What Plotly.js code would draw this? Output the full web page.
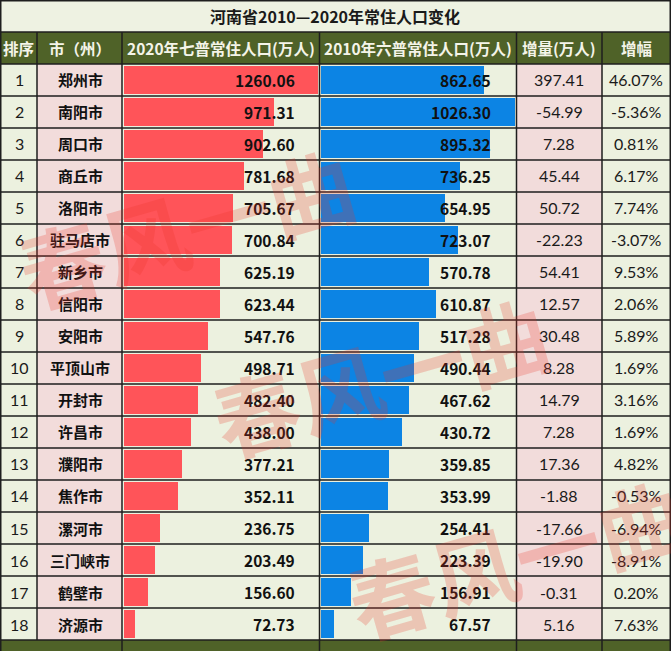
<!DOCTYPE html>
<html><head><meta charset="utf-8">
<script src="https://cdn.plot.ly/plotly-3.0.1.min.js"></script>
<style>html,body{margin:0;padding:0;background:#fff;}#chart{width:671px;height:651px;}</style>
</head><body><div id="chart"></div>
<script>
// ---- data ----
const title = "河南省2010—2020年常住人口变化";
const headers = ["排序", "市（州）", "2020年七普常住人口(万人)", "2010年六普常住人口(万人)", "增量(万人)", "增幅"];
const ranks = [1,2,3,4,5,6,7,8,9,10,11,12,13,14,15,16,17,18];
const cities = ["郑州市","南阳市","周口市","商丘市","洛阳市","驻马店市","新乡市","信阳市","安阳市","平顶山市","开封市","许昌市","濮阳市","焦作市","漯河市","三门峡市","鹤壁市","济源市"];
const pop2020 = [1260.06,971.31,902.60,781.68,705.67,700.84,625.19,623.44,547.76,498.71,482.40,438.00,377.21,352.11,236.75,203.49,156.60,72.73];
const pop2010 = [862.65,1026.30,895.32,736.25,654.95,723.07,570.78,610.87,517.28,490.44,467.62,430.72,359.85,353.99,254.41,223.39,156.91,67.57];
const increase = [397.41,-54.99,7.28,45.44,50.72,-22.23,54.41,12.57,30.48,8.28,14.79,7.28,17.36,-1.88,-17.66,-19.90,-0.31,5.16];
const growthPct = [46.07,-5.36,0.81,6.17,7.74,-3.07,9.53,2.06,5.89,1.69,3.16,1.69,4.82,-0.53,-6.94,-8.91,0.20,7.63];
const totalLabel = "全省合计";
const watermark = "春风一曲";

// ---- layout geometry (pixels) ----
const W = 671, H = 651;
const px = x => x / W, py = y => 1 - y / H;
const colX = [0, 37, 122, 319.5, 516.5, 602, 671];
const titleBot = 32, headBot = 64, rowH = 32, n = cities.length;
const rowsBot = headBot + rowH * n;
const LIGHT = "#ECF1DF", PINK = "#F2DCDB", OLIVE = "#4F6228", LINE = "#1e1e1e";

const idx = ranks.map((r, i) => i);
const max20 = Math.max(...pop2020), max10 = Math.max(...pop2010);

const traces = [
  { type: "bar", orientation: "h", x: pop2020, y: idx, xaxis: "x", yaxis: "y",
    width: 0.88, marker: { color: "#FF5459", line: { width: 0 } }, hoverinfo: "skip" },
  { type: "bar", orientation: "h", x: pop2010, y: idx, xaxis: "x2", yaxis: "y",
    width: 0.88, marker: { color: "#0C84E4", line: { width: 0 } }, hoverinfo: "skip" }
];

const shapes = [];
function rect(x0, y0, x1, y1, color) {
  shapes.push({ type: "rect", xref: "paper", yref: "paper", x0: px(x0), x1: px(x1), y0: py(y1), y1: py(y0),
    fillcolor: color, line: { width: 0 }, layer: "below" });
}
function line(x0, y0, x1, y1, w) {
  shapes.push({ type: "line", xref: "paper", yref: "paper", x0: px(x0), x1: px(x1), y0: py(y0), y1: py(y1),
    line: { color: LINE, width: w || 1.5 }, layer: "above" });
}
rect(0, 0, W, titleBot, "#EEF2E2");
rect(0, titleBot, W, headBot, OLIVE);
const colBg = [LIGHT, PINK, LIGHT, LIGHT, PINK, LIGHT];
for (let c = 0; c < 6; c++) rect(colX[c], headBot, colX[c + 1], rowsBot, colBg[c]);
rect(0, rowsBot, W, H, OLIVE);
// horizontal lines
line(0, 0.75, W, 0.75);
line(0, titleBot, W, titleBot);
line(0, headBot, W, headBot);
for (let k = 1; k <= n; k++) line(0, headBot + rowH * k, W, headBot + rowH * k);
// vertical lines
line(0.75, 0, 0.75, H);
line(W - 0.75, 0, W - 0.75, H);
for (let c = 1; c < 6; c++) {
  if (c === 1) { line(colX[c], titleBot, colX[c], rowsBot); }
  else line(colX[c], titleBot, colX[c], H);
}

const ann = [];
const cjk = '"Noto Sans CJK SC", "Microsoft YaHei", sans-serif';
function A(o) { ann.push(Object.assign({ showarrow: false, xanchor: "center", yanchor: "middle", xref: "paper" }, o)); }
A({ text: title, yref: "paper", x: px(335), y: py(16),
  font: { family: cjk, size: 16, color: "#1a1a1a", weight: "bold" } });
headers.forEach((h, c) => {
  A({ text: h, yref: "paper", x: px((colX[c] + colX[c + 1]) / 2), y: py(48),
    font: { family: cjk, size: 15.5, color: "#F4F4E8", weight: "bold" } });
});
const numFont = { family: "Lato, 'Open Sans', sans-serif", size: 16, color: "#1a1a1a" };
const boldNum = { family: cjk, size: 15.5, color: "#111", weight: "bold" };
idx.forEach(i => {
  A({ text: String(ranks[i]), yref: "y", x: px(19), y: i, font: numFont });
  A({ text: cities[i], yref: "y", x: px(80), y: i,
    font: { family: cjk, size: 15, color: "#111", weight: "bold" } });
  A({ text: pop2020[i].toFixed(2), yref: "y", x: px(297), y: i, xanchor: "right", font: boldNum });
  A({ text: pop2010[i].toFixed(2), yref: "y", x: px(493), y: i, xanchor: "right", font: boldNum });
  A({ text: increase[i].toFixed(2), yref: "y", x: px(559), y: i, font: numFont });
  A({ text: growthPct[i].toFixed(2) + "%", yref: "y", x: px(636), y: i, font: numFont });
});
A({ text: totalLabel, yref: "paper", x: px(62), y: py(659),
  font: { family: cjk, size: 15.5, color: "#F4F4E8", weight: "bold" } });
// watermarks
[[186, 226], [380, 374], [515, 556]].forEach(p => {
  A({ text: watermark, yref: "paper", x: px(p[0]), y: py(p[1]), textangle: -16,
    font: { family: cjk, size: 86, color: "rgba(235,50,40,0.23)", weight: "bold" } });
});

const layout = {
  width: W, height: H, margin: { l: 0, r: 0, t: 0, b: 0 }, showlegend: false,
  paper_bgcolor: "#ffffff", plot_bgcolor: "rgba(0,0,0,0)", bargap: 0,
  xaxis: { domain: [px(124), px(318)], range: [0, max20], visible: false, fixedrange: true },
  xaxis2: { domain: [px(321), px(515)], range: [0, max10], visible: false, fixedrange: true, anchor: "y" },
  yaxis: { domain: [py(rowsBot), py(headBot)], range: [n - 0.5, -0.5], visible: false, fixedrange: true },
  shapes: shapes, annotations: ann
};
Plotly.newPlot("chart", traces, layout, { staticPlot: true, displayModeBar: false });
</script></body></html>
